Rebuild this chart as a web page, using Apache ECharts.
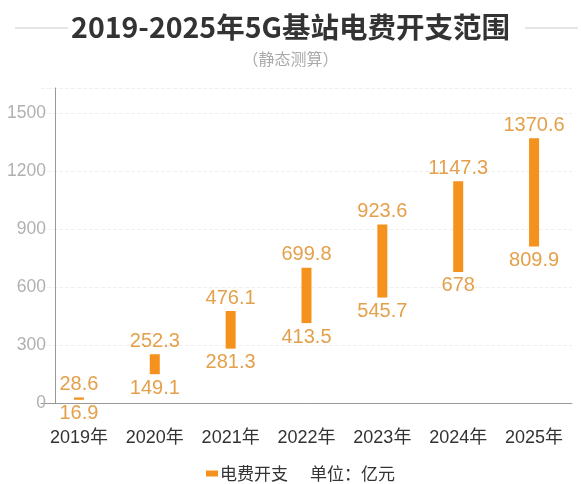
<!DOCTYPE html>
<html>
<head>
<meta charset="utf-8">
<script src="https://cdn.jsdelivr.net/npm/echarts@6/dist/echarts.min.js"></script>
<style>
html,body{margin:0;padding:0;background:#fff;}
#chart{width:581px;height:484px;}
</style>
</head>
<body>
<div id="chart"></div>
<script>
const categories = ['2019年', '2020年', '2021年', '2022年', '2023年', '2024年', '2025年'];
const lowValues = [16.9, 149.1, 281.3, 413.5, 545.7, 678, 809.9];
const highValues = [28.6, 252.3, 476.1, 699.8, 923.6, 1147.3, 1370.6];
const seriesName = '电费开支';
const unitText = '单位：亿元';
const titleText = '2019-2025年5G基站电费开支范围';
const subtitleText = '（静态测算）';

const rangeValues = highValues.map((h, i) => +(h - lowValues[i]).toFixed(1));

const numFont = '"Liberation Sans", Arial, "Noto Sans CJK SC", sans-serif';
const cjkFont = '"Noto Sans CJK SC", sans-serif';
const barColor = '#F5921E';
const labelColor = '#E4A04B';

const chart = echarts.init(document.getElementById('chart'), null, {renderer: 'canvas'});
chart.setOption({
  backgroundColor: '#fff',
  animation: false,
  title: [
    {
      text: titleText,
      left: 'center',
      top: 8,
      textStyle: {fontFamily: cjkFont, fontSize: 28.5, fontWeight: 'bold', color: '#333'}
    },
    {
      text: subtitleText,
      left: 'center',
      top: 46,
      textStyle: {fontFamily: cjkFont, fontSize: 16, fontWeight: 'normal', color: '#aaa'}
    },
    {
      text: unitText,
      left: 305,
      top: 460,
      textStyle: {fontFamily: cjkFont, fontSize: 17, fontWeight: 'normal', color: '#333'}
    }
  ],
  graphic: [
    {type: 'line', shape: {x1: 15, y1: 28, x2: 68, y2: 28}, style: {stroke: '#ccc', lineWidth: 1}},
    {type: 'line', shape: {x1: 525, y1: 28, x2: 578, y2: 28}, style: {stroke: '#ccc', lineWidth: 1}}
  ],
  legend: {
    data: [seriesName],
    left: 201,
    top: 460,
    icon: 'rect',
    itemWidth: 12,
    itemHeight: 6,
    itemGap: 4,
    textStyle: {fontFamily: cjkFont, fontSize: 17, color: '#333', padding: [0, 0, 0, -3]}
  },
  grid: {left: 41, right: 9, top: 88, bottom: 81, containLabel: false},
  xAxis: {
    type: 'category',
    data: categories,
    axisLine: {lineStyle: {color: '#999', width: 1}},
    axisTick: {show: false},
    axisLabel: {fontFamily: numFont, fontSize: 18, color: '#333', margin: 26}
  },
  yAxis: {
    type: 'value',
    min: 0,
    max: 1630,
    interval: 300,
    offset: -14,
    axisLine: {show: true, lineStyle: {color: '#999', width: 1}},
    axisTick: {show: false},
    axisLabel: {fontFamily: numFont, fontSize: 17.5, color: '#b0b0b0', margin: 9, showMaxLabel: false,
      formatter: v => String(v)},
    splitLine: {show: true, lineStyle: {color: '#f0f0f0', type: 'dashed', width: 1}}
  },
  series: [
    {
      name: 'base',
      type: 'bar',
      stack: 'range',
      barWidth: 10,
      data: lowValues,
      itemStyle: {color: 'transparent'},
      label: {
        show: true,
        position: 'insideTop',
        distance: 4,
        formatter: p => String(lowValues[p.dataIndex]),
        fontFamily: numFont,
        fontSize: 20,
        color: labelColor
      },
      silent: true
    },
    {
      name: seriesName,
      type: 'bar',
      stack: 'range',
      barWidth: 10,
      data: rangeValues,
      itemStyle: {color: barColor},
      label: {
        show: true,
        position: 'top',
        distance: 3,
        formatter: p => String(highValues[p.dataIndex]),
        fontFamily: numFont,
        fontSize: 20,
        color: labelColor
      }
    }
  ]
});
</script>
</body>
</html>
